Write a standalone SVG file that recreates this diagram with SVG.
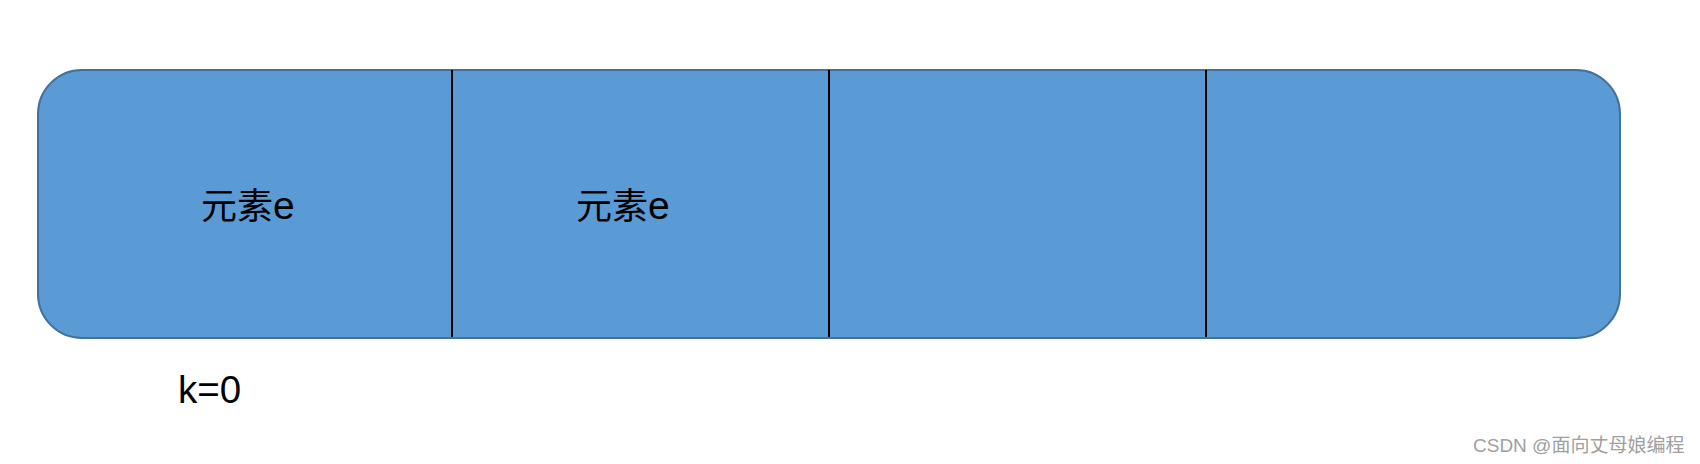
<svg xmlns="http://www.w3.org/2000/svg" width="1700" height="464" viewBox="0 0 1700 464">
<style>
.box{fill:#5B9BD5;stroke:#41719C;stroke-width:2}
.div{stroke:#000;stroke-width:2}
.t{font-family:"Liberation Sans","Noto Sans CJK SC",sans-serif;fill:#000}
.wm{font-family:"Liberation Sans","Noto Sans CJK SC",sans-serif;fill:#A0A0A0;font-size:19px}
</style>
<rect width="1700" height="464" fill="#fff"/>
<g id="array">
<rect class="box" x="38" y="70" width="1582" height="268" rx="44" ry="44"/>
</g>
<g id="dividers">
<line class="div" x1="452" y1="70" x2="452" y2="337"/>
<line class="div" x1="829" y1="70" x2="829" y2="337"/>
<line class="div" x1="1206" y1="70" x2="1206" y2="337"/>
</g>
<g id="cell1"><text class="t" x="201" y="219" font-size="36">元素<tspan font-size="39">e</tspan></text></g>
<g id="cell2"><text class="t" x="576" y="219" font-size="36">元素<tspan font-size="39">e</tspan></text></g>
<g id="label-k"><text class="t" x="178" y="403" font-size="38.5">k=0</text></g>
<g id="watermark"><text class="wm" x="1473" y="452">CSDN @面向丈母娘编程</text></g>
</svg>
